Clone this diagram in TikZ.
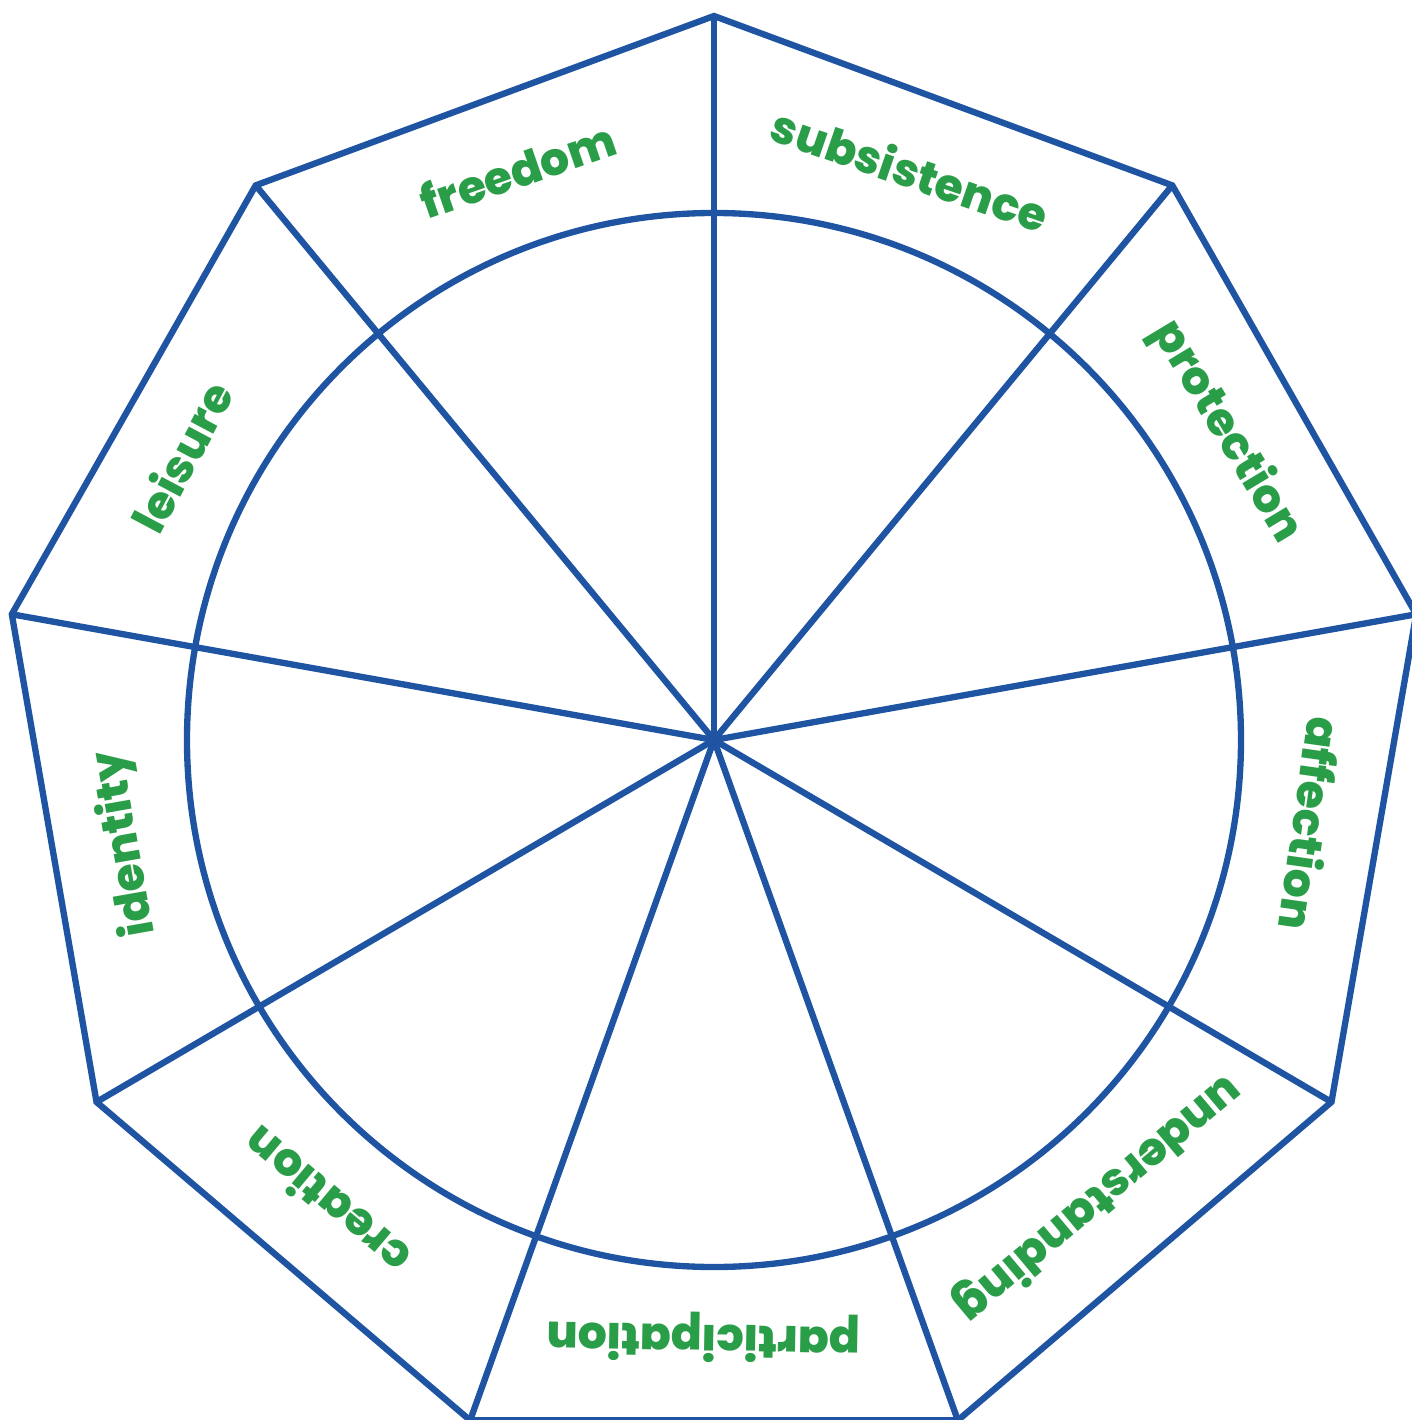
\documentclass[tikz,border=0pt]{standalone}
\usepackage{fontspec}
\newfontfamily\needfont{Poppins}[BoldFont={Poppins ExtraBold}]
\usepackage{tikz}
\usetikzlibrary{positioning}
\definecolor{wheelblue}{RGB}{31,84,163}
\definecolor{needgreen}{RGB}{42,157,72}
\tikzset{
  wheel/.style={draw=wheelblue, line width=1.8pt},
  need/.style={text=needgreen, font=\needfont\bfseries\fontsize{13}{15}\selectfont, anchor=base, inner sep=0pt}
}
\begin{document}
\begin{tikzpicture}
	\useasboundingbox (-7.14,-6.80) rectangle (6.97,7.40);

		% centre and corners
		\coordinate (c) at (0,0);
		\foreach \i in {0,...,8}
			\coordinate (v\i) at ({7.13*cos(90-40*\i)},{7.24*sin(90-40*\i)});

		% outer nonagon
		\draw[wheel] (v0) -- (v1) -- (v2) -- (v3) -- (v4) -- (v5) -- (v6) -- (v7) -- (v8) -- cycle;

		% inner circle
		\draw[wheel] (c) circle (5.27);

		% spokes
		\foreach \i in {0,...,8}
			\draw[wheel] (c) -- (v\i);

		% needs
		\foreach \needname/\ang [count=\i] in {subsistence/71,protection/31,affection/-8,understanding/-50,participation/-91,creation/-130,identity/-170,leisure/152,freedom/109}
			\node[need, rotate={\ang-90}] (n\i) at (\ang:5.85) {\needname};
	\end{tikzpicture}
\end{document}
